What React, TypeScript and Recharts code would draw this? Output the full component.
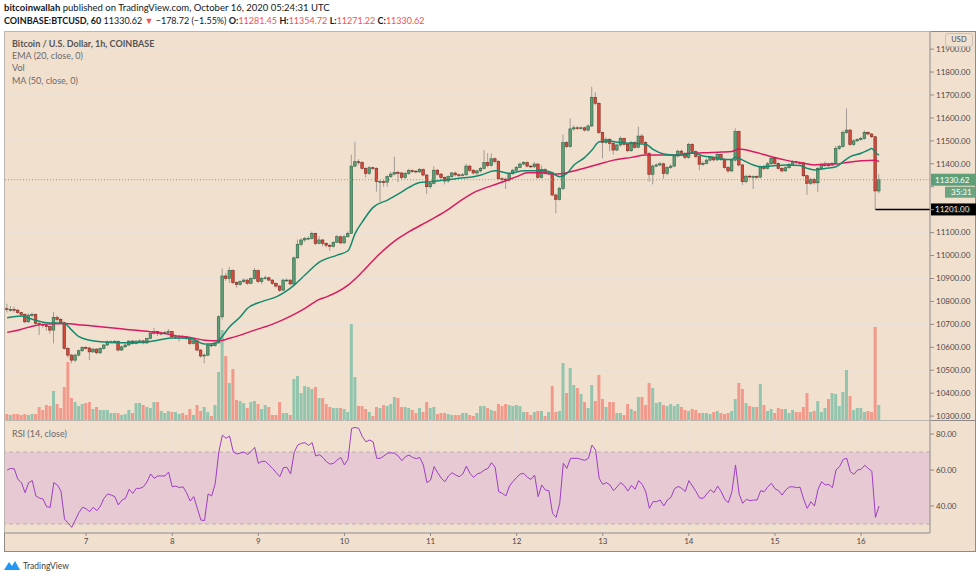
import React from 'react'
import { ComposedChart, Bar, Line, XAxis, YAxis, CartesianGrid, ReferenceLine, ReferenceArea, Cell } from 'recharts'

// hourly BTCUSD candles, first one is Oct 6 02:00 UTC
const firstOpen = 10768
const closes = [
  10765, 10765, 10762, 10751, 10743, 10711, 10740, 10743, 10704, 10700,
  10697, 10690, 10675, 10730, 10722, 10707, 10595, 10566, 10544, 10566,
  10585, 10599, 10597, 10580, 10592, 10576, 10595, 10610, 10624, 10624,
  10626, 10588, 10602, 10610, 10627, 10617, 10627, 10628, 10619, 10638,
  10661, 10668, 10661, 10661, 10665, 10668, 10646, 10646, 10648, 10646,
  10640, 10617, 10628, 10588, 10562, 10566, 10610, 10607, 10619, 10733,
  10911, 10900, 10934, 10882, 10874, 10886, 10893, 10879, 10900, 10934,
  10886, 10900, 10903, 10893, 10879, 10867, 10849, 10893, 10893, 10876,
  10990, 11049, 11068, 11075, 11075, 11097, 11053, 11068, 11053, 11045,
  11040, 11058, 11082, 11055, 11082, 11097, 11390, 11409, 11406, 11380,
  11358, 11383, 11380, 11322, 11322, 11320, 11344, 11355, 11362, 11360,
  11340, 11358, 11370, 11368, 11365, 11375, 11351, 11300, 11315, 11372,
  11355, 11340, 11325, 11344, 11360, 11352, 11350, 11352, 11390, 11372,
  11360, 11369, 11380, 11405, 11393, 11422, 11411, 11335, 11333, 11329,
  11358, 11372, 11384, 11399, 11405, 11390, 11387, 11399, 11341, 11375,
  11361, 11361, 11264, 11245, 11293, 11492, 11475, 11552, 11557, 11555,
  11557, 11547, 11565, 11690, 11664, 11536, 11492, 11507, 11489, 11460,
  11482, 11511, 11485, 11457, 11493, 11472, 11521, 11493, 11446, 11354,
  11390, 11395, 11400, 11358, 11384, 11390, 11434, 11455, 11446, 11428,
  11485, 11453, 11431, 11398, 11402, 11416, 11428, 11417, 11441, 11420,
  11384, 11369, 11416, 11540, 11395, 11322, 11346, 11344, 11344, 11342,
  11387, 11380, 11400, 11424, 11402, 11380, 11369, 11383, 11398, 11409,
  11405, 11404, 11348, 11315, 11332, 11317, 11380, 11395, 11395, 11394,
  11402, 11467, 11475, 11536, 11547, 11484, 11500, 11506, 11511, 11537,
  11530, 11518, 11281.45, 11330.62,
]
const highs = [
  10790, 10780, 10778, 10768, 10755, 10748, 10748, 10752, 10748, 10712,
  10708, 10702, 10695, 10755, 10738, 10728, 10712, 10600, 10570, 10572,
  10590, 10605, 10606, 10602, 10598, 10596, 10600, 10615, 10630, 10630,
  10632, 10630, 10608, 10616, 10632, 10632, 10632, 10635, 10632, 10642,
  10668, 10685, 10672, 10670, 10672, 10680, 10672, 10655, 10655, 10654,
  10650, 10645, 10634, 10632, 10592, 10572, 10614, 10615, 10625, 10740,
  10944, 10925, 10950, 10940, 10888, 10892, 10900, 10898, 10905, 10945,
  10940, 10906, 10912, 10908, 10897, 10882, 10870, 10898, 10900, 10896,
  10995, 11070, 11075, 11082, 11085, 11105, 11100, 11085, 11072, 11058,
  11050, 11062, 11090, 11088, 11090, 11105, 11440, 11496, 11420, 11412,
  11385, 11390, 11388, 11385, 11330, 11330, 11350, 11365, 11431, 11370,
  11365, 11365, 11378, 11376, 11372, 11382, 11380, 11355, 11322, 11390,
  11378, 11360, 11345, 11350, 11365, 11366, 11358, 11360, 11400, 11395,
  11378, 11375, 11386, 11460, 11446, 11446, 11428, 11415, 11342, 11340,
  11365, 11378, 11392, 11405, 11412, 11410, 11395, 11408, 11402, 11392,
  11380, 11368, 11366, 11270, 11300, 11528, 11498, 11598, 11568, 11565,
  11563, 11562, 11572, 11736, 11712, 11668, 11540, 11515, 11512, 11494,
  11488, 11520, 11515, 11490, 11500, 11498, 11562, 11530, 11498, 11450,
  11398, 11402, 11408, 11405, 11390, 11398, 11440, 11462, 11462, 11450,
  11492, 11490, 11458, 11436, 11410, 11422, 11435, 11432, 11448, 11445,
  11425, 11390, 11422, 11555, 11545, 11400, 11352, 11352, 11350, 11350,
  11392, 11395, 11408, 11430, 11428, 11406, 11386, 11390, 11404, 11416,
  11414, 11412, 11408, 11352, 11340, 11338, 11386, 11402, 11410, 11402,
  11408, 11478, 11482, 11545, 11642, 11552, 11508, 11512, 11518, 11545,
  11542, 11534, 11522, 11354.72,
]
const lows = [
  10752, 10755, 10752, 10745, 10735, 10705, 10706, 10732, 10698, 10653,
  10685, 10672, 10660, 10617, 10712, 10700, 10590, 10555, 10530, 10535,
  10560, 10580, 10590, 10544, 10575, 10570, 10570, 10590, 10605, 10616,
  10618, 10582, 10584, 10598, 10605, 10612, 10612, 10620, 10614, 10615,
  10635, 10655, 10650, 10652, 10655, 10660, 10640, 10638, 10625, 10638,
  10632, 10610, 10612, 10582, 10555, 10530, 10560, 10600, 10602, 10615,
  10720, 10890, 10880, 10875, 10860, 10868, 10880, 10872, 10875, 10895,
  10880, 10875, 10895, 10888, 10872, 10860, 10842, 10845, 10886, 10870,
  10872, 10985, 11040, 11060, 11068, 11070, 11045, 11050, 11040, 11035,
  11020, 11035, 11055, 11050, 11052, 11078, 11095, 11385, 11395, 11375,
  11340, 11352, 11372, 11278, 11234, 11300, 11300, 11338, 11350, 11320,
  11330, 11335, 11352, 11360, 11358, 11360, 11345, 11268, 11290, 11310,
  11348, 11332, 11310, 11318, 11338, 11345, 11342, 11345, 11348, 11365,
  11352, 11352, 11362, 11375, 11385, 11388, 11402, 11330, 11322, 11290,
  11322, 11352, 11368, 11380, 11395, 11384, 11380, 11382, 11335, 11336,
  11352, 11350, 11258, 11184, 11240, 11285, 11468, 11470, 11545, 11548,
  11549, 11540, 11540, 11560, 11655, 11530, 11424, 11486, 11455, 11440,
  11455, 11475, 11478, 11450, 11452, 11465, 11468, 11488, 11440, 11322,
  11310, 11385, 11388, 11335, 11350, 11378, 11385, 11428, 11440, 11420,
  11422, 11446, 11425, 11372, 11390, 11398, 11410, 11410, 11412, 11412,
  11378, 11360, 11364, 11410, 11388, 11308, 11315, 11338, 11290, 11335,
  11336, 11372, 11375, 11395, 11396, 11374, 11362, 11365, 11378, 11393,
  11398, 11396, 11342, 11264, 11308, 11310, 11278, 11375, 11388, 11388,
  11390, 11398, 11460, 11470, 11530, 11478, 11478, 11495, 11500, 11505,
  11524, 11512, 11201, 11271.22,
]
// volume, BTC per hour
const volumes = [
  240, 200, 240, 240, 200, 240, 200, 240, 240, 520,
  400, 600, 560, 1160, 640, 480, 1320, 2320, 880, 720,
  560, 640, 680, 720, 440, 520, 400, 400, 400, 280,
  280, 280, 200, 240, 400, 280, 680, 680, 600, 520,
  480, 720, 720, 360, 280, 360, 320, 320, 240, 280,
  200, 440, 200, 600, 360, 520, 320, 160, 600, 1920,
  3600, 2560, 1480, 2040, 800, 760, 680, 480, 720, 760,
  640, 440, 600, 520, 200, 200, 720, 280, 280, 200,
  1640, 1760, 1080, 1360, 1320, 1240, 1320, 880, 880, 640,
  520, 480, 480, 480, 440, 320, 3840, 1720, 560, 560,
  440, 320, 160, 520, 480, 600, 560, 640, 920, 880,
  520, 520, 480, 400, 280, 480, 320, 720, 480, 520,
  240, 280, 280, 240, 200, 200, 200, 280, 280, 200,
  160, 280, 560, 560, 480, 400, 360, 640, 560, 640,
  600, 560, 600, 560, 320, 320, 200, 320, 360, 360,
  160, 320, 1360, 320, 360, 2280, 1080, 2080, 1400, 1280,
  1040, 720, 480, 1400, 760, 1800, 840, 520, 720, 720,
  280, 280, 200, 640, 440, 360, 920, 920, 600, 1480,
  1280, 680, 720, 600, 560, 640, 560, 640, 520, 400,
  360, 440, 400, 280, 280, 280, 240, 320, 360, 280,
  240, 280, 360, 840, 1480, 1240, 680, 560, 520, 520,
  1440, 600, 360, 440, 280, 480, 440, 440, 280, 400,
  320, 320, 520, 1080, 320, 360, 760, 320, 480, 840,
  1080, 1040, 560, 1120, 2000, 960, 400, 480, 480, 320,
  360, 320, 3720, 600,
]
const rsi = [
  60.0, 60.9, 60.6, 54.8, 53.0, 47.4, 53.0, 54.1, 45.6, 44.4,
  43.9, 39.6, 39.3, 53.0, 51.7, 48.3, 32.6, 30.7, 28.1, 32.2,
  36.3, 39.3, 38.5, 36.9, 39.3, 37.4, 40.0, 44.3, 46.7, 46.1,
  45.2, 40.6, 43.3, 44.3, 49.3, 47.0, 49.8, 49.8, 50.7, 53.5,
  57.8, 55.4, 56.7, 56.7, 56.7, 58.9, 50.7, 51.1, 50.2, 50.7,
  47.4, 42.8, 45.2, 38.7, 32.2, 31.9, 46.7, 45.6, 52.6, 70.2,
  79.4, 77.6, 78.9, 70.2, 68.9, 69.4, 70.0, 68.7, 70.2, 72.6,
  63.7, 64.8, 64.8, 62.8, 60.9, 58.5, 56.3, 61.3, 61.5, 57.8,
  69.8, 73.9, 74.8, 75.2, 73.7, 75.2, 67.8, 68.5, 67.0, 64.6,
  63.3, 63.7, 65.6, 67.0, 62.8, 65.9, 83.1, 83.7, 83.1, 78.5,
  75.7, 76.7, 75.7, 66.5, 66.5, 67.8, 69.3, 69.6, 69.3, 67.8,
  65.2, 67.4, 68.3, 67.0, 66.3, 67.0, 62.8, 53.0, 54.4, 61.9,
  58.5, 55.4, 53.5, 56.7, 58.5, 57.2, 56.3, 57.8, 62.2, 58.1,
  55.9, 57.8, 58.5, 60.0, 60.9, 64.1, 61.5, 48.0, 47.0, 45.6,
  51.1, 53.7, 55.9, 57.8, 58.1, 55.9, 54.8, 57.2, 45.2, 51.7,
  48.9, 48.5, 35.9, 33.7, 41.5, 63.7, 60.9, 66.5, 66.5, 66.5,
  65.9, 65.4, 66.5, 73.9, 71.1, 55.4, 52.0, 53.0, 51.7, 48.5,
  50.7, 53.0, 51.3, 48.3, 51.5, 49.3, 54.1, 52.0, 47.8, 38.7,
  42.4, 42.4, 43.3, 40.0, 43.3, 44.8, 49.6, 50.9, 49.8, 48.1,
  54.1, 51.1, 48.0, 44.4, 44.3, 46.7, 49.1, 47.4, 51.1, 48.0,
  43.7, 41.9, 48.0, 62.8, 46.7, 41.5, 43.7, 43.0, 43.3, 43.3,
  48.5, 48.0, 50.7, 52.6, 49.6, 48.5, 46.1, 48.9, 50.6, 50.7,
  50.2, 50.4, 43.7, 38.7, 42.4, 40.0, 49.3, 53.5, 51.7, 52.0,
  50.2, 60.0, 61.9, 65.9, 66.5, 59.1, 57.6, 60.0, 60.4, 62.6,
  60.9, 59.3, 33.7, 40.0,
]

// EMA 20 / MA 50 at these candle positions
const emaIdx = [0, 4, 7, 11, 16, 18, 20, 23, 26, 29, 32, 35, 39, 42, 46, 51, 55, 58, 59, 62, 65, 67, 71, 75, 78, 80, 83, 87, 92, 95, 97, 99, 102, 106, 110, 112, 115, 118, 122, 126, 130, 132, 136, 140, 144, 148, 151, 154, 156, 158, 161, 163, 165, 168, 170, 174, 178, 180, 183, 186, 189, 191, 194, 197, 200, 202, 203, 205, 208, 210, 213, 217, 221, 223, 225, 228, 231, 233, 235, 238, 240, 241, 242, 243]
const emaVal = [10729, 10736, 10722, 10707, 10704, 10675, 10646, 10631, 10624, 10621, 10620, 10620, 10624, 10631, 10641, 10639, 10614, 10617, 10630, 10690, 10733, 10770, 10799, 10820, 10847, 10871, 10915, 10971, 11002, 11021, 11097, 11147, 11210, 11242, 11278, 11297, 11318, 11322, 11329, 11337, 11344, 11351, 11370, 11358, 11370, 11370, 11366, 11344, 11358, 11395, 11428, 11460, 11496, 11499, 11494, 11490, 11485, 11463, 11443, 11438, 11438, 11448, 11434, 11428, 11419, 11419, 11430, 11416, 11395, 11387, 11390, 11395, 11393, 11380, 11373, 11380, 11387, 11409, 11431, 11446, 11460, 11467, 11449, 11438]
const maIdx = [0, 4, 7, 11, 16, 21, 26, 31, 35, 40, 44, 46, 51, 55, 59, 62, 65, 69, 74, 79, 83, 87, 89, 95, 99, 103, 109, 112, 117, 122, 126, 130, 137, 142, 145, 149, 152, 155, 159, 165, 169, 174, 178, 183, 187, 190, 194, 199, 202, 204, 208, 213, 217, 221, 225, 228, 231, 234, 238, 242, 243]
const maVal = [10665, 10679, 10692, 10701, 10704, 10697, 10690, 10682, 10675, 10668, 10660, 10653, 10643, 10631, 10628, 10639, 10653, 10675, 10701, 10736, 10770, 10809, 10820, 10871, 10929, 10995, 11075, 11104, 11147, 11191, 11235, 11274, 11315, 11344, 11361, 11361, 11355, 11358, 11373, 11399, 11416, 11428, 11438, 11438, 11438, 11446, 11448, 11451, 11454, 11464, 11453, 11431, 11416, 11405, 11395, 11399, 11399, 11406, 11413, 11416, 11409]

const dayLabels = [7, 8, 9, 10, 11, 12, 13, 14, 15, 16]
const priceTicks = [10300, 10400, 10500, 10600, 10700, 10800, 10900, 11000, 11100, 11200, 11300, 11400, 11500, 11600, 11700, 11800, 11900]
const rsiTicks = [40, 60, 80]

const dayK = dayLabels.map((d) => (d - 6) * 24 - 2)
const xDomain = [-0.6, 257.2]

const data: any[] = closes.map((c, i) => ({
  i,
  o: i === 0 ? firstOpen : closes[i - 1],
  c,
  h: highs[i],
  l: lows[i],
  range: [lows[i], highs[i]],
  vol: volumes[i],
  rsi: rsi[i],
  ema: null,
  ma: null,
}))
emaIdx.forEach((k, j) => (data[k].ema = emaVal[j]))
maIdx.forEach((k, j) => (data[k].ma = maVal[j]))

const last = data[data.length - 1]
const prev = data[data.length - 2]

const BG = '#f2e0cf'
const GRID = '#e8e0d8'
const FONT = 'Lato, "Open Sans", sans-serif'

function Candle(props: any) {
  const { x, y, width, height, payload } = props
  if (!payload || x == null) return null
  const top = Math.min(y, y + height)
  const bottom = Math.max(y, y + height)
  const span = payload.h - payload.l || 1
  const at = (v: number) => top + ((payload.h - v) / span) * (bottom - top)
  const cx = x + width / 2
  const yo = at(payload.o)
  const yc = at(payload.c)
  const up = payload.c >= payload.o
  return (
    <g>
      <line x1={cx} x2={cx} y1={top} y2={bottom} stroke="#8e8a86" strokeWidth={0.8} />
      <rect
        x={cx - 1.3}
        y={Math.min(yo, yc)}
        width={2.6}
        height={Math.max(Math.abs(yo - yc), 0.8)}
        fill={up ? '#5e9f77' : '#d64a3c'}
        stroke={up ? '#2c6243' : '#7a2a21'}
        strokeWidth={0.6}
      />
    </g>
  )
}

function AxisTag({ viewBox, text, fill, sub }: any) {
  if (!viewBox) return null
  const x = viewBox.x + viewBox.width
  const y = viewBox.y
  return (
    <g>
      <rect x={x + 1} y={y - 6} width={45} height={12} fill={fill} />
      <text x={x + 5} y={y + 3} fontSize={8} fill="#fff" fontFamily={FONT}>{text}</text>
      {sub && (
        <>
          <rect x={x + 15} y={y + 7} width={31} height={11} fill={fill} opacity={0.9} />
          <text x={x + 21} y={y + 15.5} fontSize={8} fill="#fff" fontFamily={FONT}>{sub}</text>
        </>
      )}
    </g>
  )
}

// the 11300 label sits under the live price tag in the original
const priceLabel = (v: number) => (v === 11300 ? '' : v.toFixed(2))

const legendStyle: React.CSSProperties = { position: 'absolute', left: 12, fontSize: 9, color: '#6a6a6a', fontFamily: FONT, lineHeight: '12px', whiteSpace: 'nowrap' }
const red = { color: '#ef5350' }

export default function App() {
  return (
    <div style={{ position: 'absolute', left: 0, top: 0, width: 980, height: 580, background: '#fff', fontFamily: FONT, overflow: 'hidden' }}>
      <div style={{ position: 'absolute', left: 4, top: 2, fontSize: 9.5, color: '#131722', lineHeight: '12px', whiteSpace: 'nowrap' }}>
        <b>bitcoinwallah</b> published on TradingView.com, October 16, 2020 05:24:31 UTC
      </div>
      <div style={{ position: 'absolute', left: 4, top: 14.5, fontSize: 9, color: '#131722', lineHeight: '12px', whiteSpace: 'nowrap' }}>
        <b>COINBASE:BTCUSD, 60</b> 11330.62 <span style={red}>▼</span> −178.72 (−1.55%) <b>O:</b><span style={red}>11281.45</span> <b>H:</b>
        <span style={red}>11354.72</span> <b>L:</b><span style={red}>11271.22</span> <b>C:</b><span style={red}>11330.62</span>
      </div>

      {/* chart frame */}
      <div style={{ position: 'absolute', left: 4, top: 31, width: 972, height: 521, background: BG, border: '1px solid #8f8a86', boxSizing: 'border-box' }} />

      {/* volume, behind the candles */}
      <div style={{ position: 'absolute', left: 0, top: 31 }}>
        <ComposedChart width={980} height={390} data={data} margin={{ top: 0, right: 50, bottom: 0, left: 5 }}>
          <CartesianGrid yAxisId="p" stroke={GRID} strokeWidth={1} />
          <XAxis type="number" dataKey="i" domain={xDomain} ticks={dayK} interval={0} height={1} tick={false} tickLine={false} axisLine={false} allowDataOverflow />
          <YAxis yAxisId="p" domain={[10283, 11979]} ticks={priceTicks} allowDataOverflow hide />
          <YAxis yAxisId="v" domain={[0, 15560]} hide />
          <Bar yAxisId="v" dataKey="vol" barSize={3} isAnimationActive={false}>
            {data.map((d, idx) => (
              <Cell key={idx} fill={d.c >= d.o ? '#92c4ae' : '#f19a8b'} />
            ))}
          </Bar>
        </ComposedChart>
      </div>

      {/* price panel */}
      <div style={{ position: 'absolute', left: 0, top: 31 }}>
        <ComposedChart width={980} height={390} data={data} margin={{ top: 0, right: 0, bottom: 0, left: 5 }}>
          <XAxis type="number" dataKey="i" domain={xDomain} ticks={dayK} height={1} tick={false} tickLine={false} axisLine={false} allowDataOverflow />
          <YAxis
            yAxisId="p"
            orientation="right"
            width={50}
            domain={[10283, 11979]}
            ticks={priceTicks}
            allowDataOverflow
            tickFormatter={priceLabel}
            tick={{ fontSize: 8, fill: '#4a4a4a', fontFamily: FONT }}
            tickSize={4}
            tickLine={{ stroke: '#8f8a86' }}
            axisLine={{ stroke: '#8f8a86' }}
          />
          <ReferenceLine yAxisId="p" y={last.c} stroke="#79a98b" strokeDasharray="1 2" label={{ content: (p: any) => <AxisTag viewBox={p.viewBox} text={last.c.toFixed(2)} fill="#5e9f77" sub="35:31" /> }} />
          <ReferenceLine
            yAxisId="p"
            segment={[{ x: prev.i, y: prev.l }, { x: xDomain[1], y: prev.l }]}
            stroke="#000"
            strokeWidth={1.5}
            label={{ content: (p: any) => <AxisTag viewBox={p.viewBox} text={prev.l.toFixed(2)} fill="#000" /> }}
          />
          <Bar yAxisId="p" dataKey="range" barSize={3} shape={Candle} isAnimationActive={false} />
          <Line yAxisId="p" dataKey="ma" type="monotone" stroke="#d81b60" strokeWidth={1.5} dot={false} connectNulls isAnimationActive={false} />
          <Line yAxisId="p" dataKey="ema" type="monotone" stroke="#138a6e" strokeWidth={1.5} dot={false} connectNulls isAnimationActive={false} />
        </ComposedChart>
      </div>

      <div style={{ position: 'absolute', left: 945, top: 33, width: 26, height: 12, border: '1px solid #c9c2bb', borderRadius: 3, fontSize: 7.5, color: '#4a4a4a', textAlign: 'center', lineHeight: '12px', background: BG }}>USD</div>

      <div style={{ ...legendStyle, top: 38, fontWeight: 700, color: '#555' }}>Bitcoin / U.S. Dollar, 1h, COINBASE</div>
      <div style={{ ...legendStyle, top: 50 }}>EMA (20, close, 0)</div>
      <div style={{ ...legendStyle, top: 62 }}>Vol</div>
      <div style={{ ...legendStyle, top: 75 }}>MA (50, close, 0)</div>

      {/* RSI panel */}
      <div style={{ position: 'absolute', left: 4, top: 420, borderTop: '1px solid #8f8a86', width: 972 }} />
      <div style={{ position: 'absolute', left: 0, top: 420 }}>
        <ComposedChart width={980} height={132} data={data} margin={{ top: 0, right: 0, bottom: 0, left: 5 }}>
          <CartesianGrid stroke={GRID} />
          <ReferenceArea y1={30} y2={70} fill="#e6c9d2" fillOpacity={1} stroke="none" />
          <ReferenceLine y={70} stroke="#b8aeb0" strokeDasharray="4 3" />
          <ReferenceLine y={30} stroke="#b8aeb0" strokeDasharray="4 3" />
          <XAxis
            type="number"
            dataKey="i"
            domain={xDomain}
            ticks={dayK}
            interval={0}
            height={19}
            allowDataOverflow
            tickFormatter={(k: number) => String(dayLabels[dayK.indexOf(k)])}
            tick={{ fontSize: 8, fill: '#4a4a4a', fontFamily: FONT }}
            tickSize={3}
            tickLine={{ stroke: '#8f8a86' }}
            axisLine={{ stroke: '#8f8a86' }}
          />
          <YAxis
            orientation="right"
            width={50}
            domain={[25, 87.8]}
            ticks={rsiTicks}
            allowDataOverflow
            tickFormatter={(v: number) => v.toFixed(2)}
            tick={{ fontSize: 8, fill: '#4a4a4a', fontFamily: FONT }}
            tickSize={4}
            tickLine={{ stroke: '#8f8a86' }}
            axisLine={{ stroke: '#8f8a86' }}
          />
          <Line dataKey="rsi" type="linear" stroke="#9c3ec4" strokeWidth={1} dot={false} isAnimationActive={false} />
        </ComposedChart>
      </div>
      <div style={{ ...legendStyle, top: 428 }}>RSI (14, close)</div>

      {/* footer logo */}
      <div style={{ position: 'absolute', left: 4, top: 560, display: 'flex', alignItems: 'center', gap: 3, fontSize: 8.5, color: '#3d3d3d' }}>
        <svg width={16} height={11} viewBox="0 0 16 11">
          <path d="M0 10 L5 2 L8 6 L11 1 L16 10 Z" fill="#2196f3" />
        </svg>
        <span>TradingView</span>
      </div>
    </div>
  )
}
